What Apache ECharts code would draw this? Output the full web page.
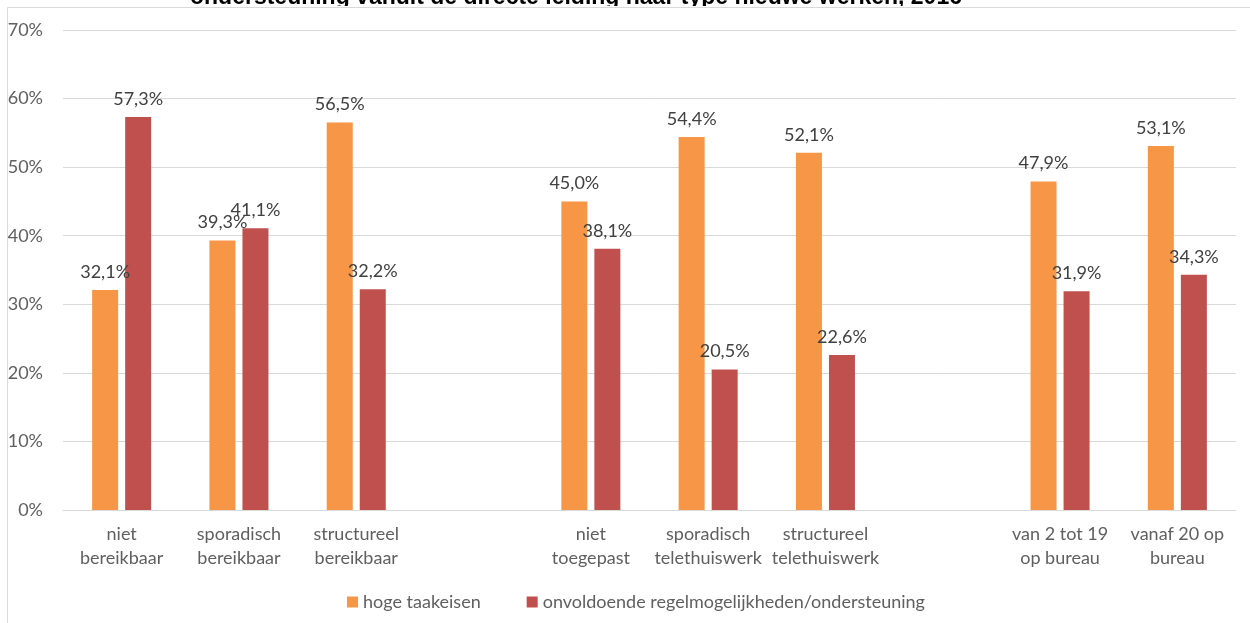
<!DOCTYPE html>
<html>
<head>
<meta charset="utf-8">
<script src="https://cdn.jsdelivr.net/npm/echarts@6/dist/echarts.min.js"></script>
<style>
  html, body { margin: 0; padding: 0; background: #fff; }
  #chart { width: 1250px; height: 623px; }
</style>
</head>
<body>
<div id="chart"></div>
<script>
// Categories (empty slots separate the three groups)
const categories = [
  'niet\nbereikbaar', 'sporadisch\nbereikbaar', 'structureel\nbereikbaar', '',
  'niet\ntoegepast', 'sporadisch\ntelethuiswerk', 'structureel\ntelethuiswerk', '',
  'van 2 tot 19\nop bureau', 'vanaf 20 op\nbureau'
];
const seriesNames = ['hoge taakeisen', 'onvoldoende regelmogelijkheden/ondersteuning'];
const hogeTaakeisen = [32.1, 39.3, 56.5, null, 45.0, 54.4, 52.1, null, 47.9, 53.1];
const onvoldoende   = [57.3, 41.1, 32.2, null, 38.1, 20.5, 22.6, null, 31.9, 34.3];
const titleText = 'ondersteuning vanuit de directe leiding naar type nieuwe werken, 2016';

const FONT = 'Lato';
const FS = 18;
const pct = v => v.toFixed(1).replace('.', ',') + '%';

const chart = echarts.init(document.getElementById('chart'), null, { renderer: 'canvas' });

chart.setOption({
  animation: false,
  color: ['#F79646', '#C0504D'],
  title: {
    text: titleText,
    left: 190,
    top: -14,
    padding: 0,
    textStyle: { fontFamily: 'Liberation Sans', fontWeight: 'bold', fontSize: 23, color: '#000' }
  },
  graphic: [
    { type: 'rect', z: 100, silent: true, shape: { x: 0, y: 6, width: 1250, height: 10 }, style: { fill: '#fff' } },
    { type: 'rect', z: 101, silent: true, shape: { x: 7.5, y: 7.5, width: 1300, height: 700 }, style: { fill: 'none', stroke: '#D9D9D9', lineWidth: 1 } }
  ],
  legend: {
    bottom: 7,
    left: 342,
    itemWidth: 11,
    itemHeight: 11,
    itemGap: 46,
    icon: 'rect',
    textStyle: { fontFamily: FONT, fontSize: FS, color: '#5f5f5f', padding: [0, 0, 0, 0] },
    data: seriesNames
  },
  grid: { left: 63, right: 14, top: 30, bottom: 113, containLabel: false },
  xAxis: {
    type: 'category',
    data: categories,
    axisLine: { lineStyle: { color: '#D9D9D9', width: 1 } },
    axisTick: { show: false },
    axisLabel: {
      interval: 0,
      margin: 12,
      fontFamily: FONT,
      fontSize: FS,
      lineHeight: 24,
      color: '#5f5f5f'
    }
  },
  yAxis: {
    type: 'value',
    min: 0,
    max: 70,
    interval: 10,
    axisLine: { show: false },
    axisTick: { show: false },
    splitLine: { lineStyle: { color: '#D9D9D9', width: 1 } },
    axisLabel: {
      margin: 20,
      fontFamily: FONT,
      fontSize: FS,
      color: '#5f5f5f',
      formatter: v => v + '%'
    }
  },
  series: [
    {
      name: seriesNames[0],
      type: 'bar',
      data: hogeTaakeisen,
      barWidth: 26,
      barGap: '27%',
      label: {
        show: true,
        position: 'top',
        distance: 9,
        fontFamily: FONT,
        fontSize: FS,
        color: '#404040',
        formatter: p => pct(p.value)
      }
    },
    {
      name: seriesNames[1],
      type: 'bar',
      data: onvoldoende,
      barWidth: 26,
      barGap: '27%',
      label: {
        show: true,
        position: 'top',
        distance: 9,
        fontFamily: FONT,
        fontSize: FS,
        color: '#404040',
        formatter: p => pct(p.value)
      }
    }
  ]
});
</script>
</body>
</html>
